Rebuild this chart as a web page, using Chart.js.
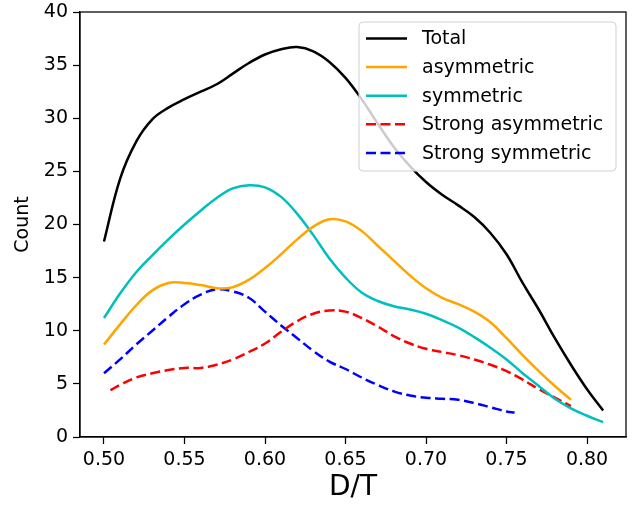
<!DOCTYPE html>
<html>
<head>
<meta charset="utf-8">
<script src="https://cdn.jsdelivr.net/npm/chart.js@4"></script>
<style>
  html, body { margin: 0; padding: 0; background: #fff; }
  #wrap { width: 638px; height: 505px; }
</style>
</head>
<body>
<div id="wrap"><canvas id="chart" width="638" height="505"></canvas></div>
<script>
// D/T distribution curves

const xTicks = [0.50, 0.55, 0.60, 0.65, 0.70, 0.75, 0.80];
const yTicks = [0, 5, 10, 15, 20, 25, 30, 35, 40];

const totalX = [0.50, 0.51, 0.52, 0.53, 0.54, 0.55, 0.56, 0.57, 0.58, 0.59, 0.60, 0.61, 0.62, 0.63, 0.64, 0.65,
  0.66, 0.67, 0.68, 0.69, 0.70, 0.71, 0.72, 0.73, 0.74, 0.75, 0.76, 0.77, 0.78, 0.79, 0.80, 0.81];
const totalY = [18.4, 24.3, 27.8, 29.9, 31.0, 31.8, 32.5, 33.2, 34.2, 35.2, 36.0, 36.5, 36.7, 36.3, 35.3, 33.8,
  31.8, 29.5, 27.3, 25.5, 24.0, 22.8, 21.8, 20.7, 19.2, 17.2, 14.5, 12.0, 9.3, 6.8, 4.5, 2.5];

const asymX = [0.50, 0.51, 0.52, 0.53, 0.54, 0.55, 0.56, 0.57, 0.58, 0.59, 0.60, 0.61, 0.62, 0.63, 0.64, 0.65,
  0.66, 0.67, 0.68, 0.69, 0.70, 0.71, 0.72, 0.73, 0.74, 0.75, 0.76, 0.77, 0.78, 0.79];
const asymY = [8.7, 10.6, 12.4, 13.8, 14.5, 14.5, 14.3, 14.0, 14.1, 14.8, 15.9, 17.2, 18.6, 19.8, 20.5, 20.3,
  19.4, 18.0, 16.6, 15.2, 14.0, 13.1, 12.5, 11.8, 10.8, 9.3, 7.7, 6.2, 4.8, 3.5];

const symX = [0.50, 0.51, 0.52, 0.53, 0.54, 0.55, 0.56, 0.57, 0.58, 0.59, 0.60, 0.61, 0.62, 0.63, 0.64, 0.65,
  0.66, 0.67, 0.68, 0.69, 0.70, 0.71, 0.72, 0.73, 0.74, 0.75, 0.76, 0.77, 0.78, 0.79, 0.80, 0.81];
const symY = [11.2, 13.5, 15.5, 17.1, 18.6, 20.0, 21.3, 22.5, 23.4, 23.7, 23.5, 22.6, 21.0, 19.0, 16.8, 15.0,
  13.6, 12.8, 12.3, 12.0, 11.6, 11.0, 10.3, 9.4, 8.4, 7.3, 6.0, 4.8, 3.6, 2.7, 2.0, 1.4];

const strongAsymX = [0.504, 0.51, 0.52, 0.53, 0.54, 0.55, 0.56, 0.57, 0.58, 0.59, 0.60, 0.61, 0.62, 0.63, 0.64, 0.65,
  0.66, 0.67, 0.68, 0.69, 0.70, 0.71, 0.72, 0.73, 0.74, 0.75, 0.76, 0.77, 0.78, 0.79];
const strongAsymY = [4.4, 4.9, 5.6, 6.0, 6.3, 6.5, 6.5, 6.8, 7.3, 8.0, 8.8, 9.9, 10.9, 11.6, 11.9, 11.8,
  11.2, 10.4, 9.5, 8.8, 8.3, 8.0, 7.7, 7.3, 6.8, 6.2, 5.4, 4.5, 3.7, 2.9];

const strongSymX = [0.50, 0.51, 0.52, 0.53, 0.54, 0.55, 0.56, 0.57, 0.58, 0.59, 0.60, 0.61, 0.62, 0.63, 0.64, 0.65,
  0.66, 0.67, 0.68, 0.69, 0.70, 0.71, 0.72, 0.73, 0.74, 0.75, 0.755];
const strongSymY = [6.0, 7.3, 8.7, 10.0, 11.3, 12.5, 13.4, 13.9, 13.7, 13.1, 11.8, 10.5, 9.3, 8.1, 7.1, 6.4,
  5.6, 4.9, 4.3, 3.9, 3.7, 3.6, 3.5, 3.2, 2.8, 2.4, 2.3];

const FONT = 'DejaVu Sans';
const DASH = [10, 4.5];

function points(xs, ys) {
  return xs.map((x, i) => ({ x: x, y: ys[i] }));
}

function series(label, xs, ys, color, dashed) {
  return {
    label: label,
    data: points(xs, ys),
    borderColor: color,
    backgroundColor: color,
    borderWidth: 2.5,
    borderDash: dashed ? DASH : [],
    pointRadius: 0,
    tension: 0.4,
    fill: false
  };
}

// box around the plot area
const frame = {
  id: 'frame',
  afterDraw(chart) {
    const { ctx, chartArea: a } = chart;
    ctx.save();
    ctx.strokeStyle = '#000';
    ctx.lineWidth = 1.25;
    ctx.strokeRect(a.left, a.top, a.right - a.left, a.bottom - a.top);
    ctx.restore();
  }
};

// matplotlib-like legend in the upper right corner
const legendBox = {
  id: 'legendBox',
  afterDatasetsDraw(chart) {
    const { ctx, chartArea: a } = chart;
    const w = 257, h = 149, rowH = 28.6;
    const x = a.right - 10 - w, y = a.top + 10;
    ctx.save();
    ctx.beginPath();
    ctx.roundRect(x, y, w, h, 4);
    ctx.fillStyle = 'rgba(255,255,255,0.8)';
    ctx.fill();
    ctx.strokeStyle = '#d0d0d0';
    ctx.lineWidth = 1;
    ctx.stroke();
    ctx.font = '19px "' + FONT + '"';
    ctx.textBaseline = 'middle';
    ctx.fillStyle = '#000';
    chart.data.datasets.forEach((ds, i) => {
      const cy = y + 16.5 + i * rowH;
      ctx.beginPath();
      ctx.setLineDash(ds.borderDash);
      ctx.strokeStyle = ds.borderColor;
      ctx.lineWidth = 2.5;
      ctx.moveTo(x + 7, cy);
      ctx.lineTo(x + 48, cy);
      ctx.stroke();
      ctx.setLineDash([]);
      ctx.fillText(ds.label, x + 63, cy + 1);
    });
    ctx.restore();
  }
};

const ctx = document.getElementById('chart').getContext('2d');
new Chart(ctx, {
  type: 'line',
  data: {
    datasets: [
      series('Total', totalX, totalY, '#000000', false),
      series('asymmetric', asymX, asymY, '#FFA500', false),
      series('symmetric', symX, symY, '#00BFBF', false),
      series('Strong asymmetric', strongAsymX, strongAsymY, '#FF0000', true),
      series('Strong symmetric', strongSymX, strongSymY, '#0000FF', true)
    ]
  },
  options: {
    responsive: false,
    animation: false,
    layout: { padding: { top: 12, right: 12, left: 0, bottom: 0 } },
    plugins: {
      legend: { display: false },
      tooltip: { enabled: false }
    },
    scales: {
      x: {
        type: 'linear',
        min: 0.4851,
        max: 0.8242,
        afterBuildTicks: s => { s.ticks = xTicks.map(v => ({ value: v })); },
        afterFit: s => { s.height = 68; },
        ticks: {
          callback: v => v.toFixed(2),
          font: { family: FONT, size: 19 },
          color: '#000',
          padding: 5,
          maxRotation: 0,
          autoSkip: false
        },
        grid: { drawOnChartArea: false, tickLength: 7, tickColor: '#000', tickWidth: 1.25 },
        border: { color: '#000', width: 1.25 },
        title: { display: true, text: 'D/T', color: '#000', font: { family: FONT, size: 28 }, padding: 0 }
      },
      y: {
        min: 0,
        max: 40,
        afterBuildTicks: s => { s.ticks = yTicks.map(v => ({ value: v })); },
        afterFit: s => { s.width = 80; s.paddingTop = 0; s.paddingBottom = 0; },
        ticks: {
          callback: v => String(v),
          font: { family: FONT, size: 19, lineHeight: 1 },
          color: '#000',
          padding: 5,
          autoSkip: false
        },
        grid: { drawOnChartArea: false, tickLength: 7, tickColor: '#000', tickWidth: 1.25 },
        border: { color: '#000', width: 1.25 },
        title: { display: true, text: 'Count', color: '#000', font: { family: FONT, size: 19 }, padding: { top: 12, bottom: 0 } }
      }
    }
  },
  plugins: [frame, legendBox]
});
</script>
</body>
</html>
